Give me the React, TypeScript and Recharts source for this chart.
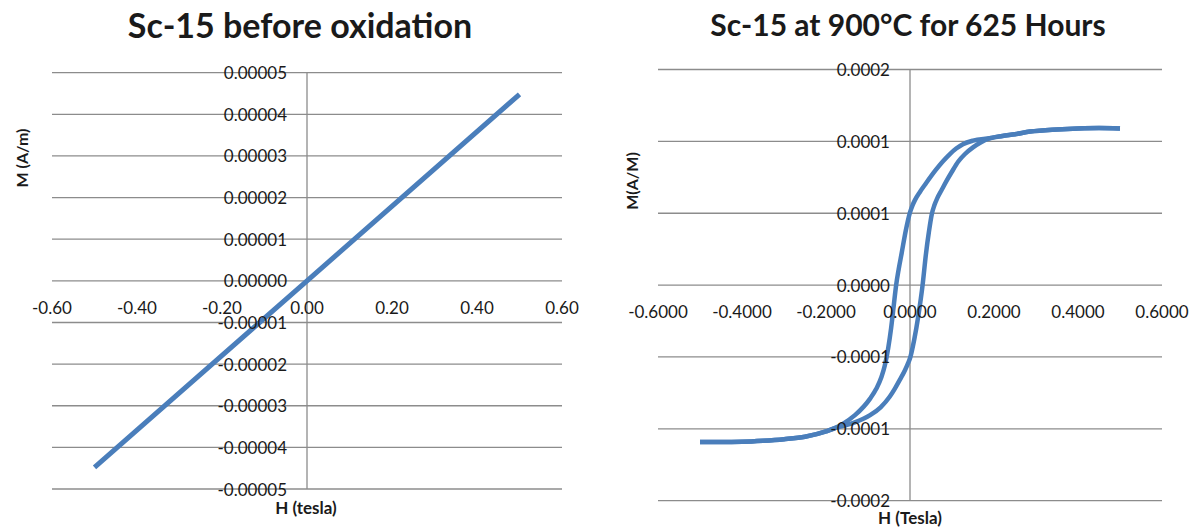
import { LineChart, Line, XAxis, YAxis, CartesianGrid, ReferenceLine } from 'recharts';

// Sc-15 before oxidation: straight M(H) line
const LEFT_H = [-0.5, 0, 0.5];
const LEFT_M = [-0.0000448, 0, 0.0000448];

const LEFT_X_TICKS = [-0.6, -0.4, -0.2, 0, 0.2, 0.4, 0.6];
const LEFT_X_LABELS = ['-0.60', '-0.40', '-0.20', '0.00', '0.20', '0.40', '0.60'];
const LEFT_Y_TICKS = [0.00005, 0.00004, 0.00003, 0.00002, 0.00001, 0, -0.00001, -0.00002, -0.00003, -0.00004, -0.00005];
const LEFT_Y_LABELS = ['0.00005', '0.00004', '0.00003', '0.00002', '0.00001', '0.00000', '-0.00001', '-0.00002', '-0.00003', '-0.00004', '-0.00005'];

// Sc-15 at 900°C for 625 h: hysteresis loop, descending and ascending branches
const DOWN_H = [-0.5, -0.45, -0.4, -0.35, -0.3, -0.25, -0.2, -0.18, -0.16, -0.131, -0.095, -0.08, -0.068, -0.06, -0.052, -0.045, -0.039, -0.033, -0.027, -0.02, -0.01, 0, 0.006, 0.012, 0.024, 0.036, 0.06, 0.078, 0.095, 0.11, 0.126, 0.15, 0.19, 0.22, 0.25, 0.286, 0.35, 0.4, 0.45, 0.5];
const DOWN_M = [-0.0001092, -0.0001092, -0.000109, -0.0001083, -0.0001072, -0.0001055, -0.0001018, -0.0000996, -0.0000965, -0.0000905, -0.000079, -0.000072, -0.000064, -0.000056, -0.000044, -0.00003, -0.000015, 0, 0.000011, 0.000022, 0.000038, 0.0000506, 0.0000555, 0.0000593, 0.000065, 0.00007, 0.0000796, 0.000086, 0.0000912, 0.000095, 0.000098, 0.0001005, 0.0001022, 0.0001038, 0.000105, 0.0001068, 0.0001083, 0.000109, 0.0001093, 0.000109];

const UP_H = [-0.5, -0.45, -0.4, -0.35, -0.3, -0.25, -0.2, -0.18, -0.16, -0.13, -0.095, -0.07, -0.048, -0.036, -0.024, -0.012, -0.006, 0, 0.01, 0.02, 0.03, 0.038, 0.045, 0.052, 0.058, 0.065, 0.075, 0.087, 0.099, 0.115, 0.131, 0.15, 0.167, 0.19, 0.22, 0.25, 0.286, 0.35, 0.4, 0.45, 0.5];
const UP_M = [-0.0001092, -0.0001092, -0.000109, -0.0001083, -0.0001072, -0.0001055, -0.0001018, -0.0000996, -0.000098, -0.0000953, -0.0000905, -0.000085, -0.0000775, -0.000072, -0.0000658, -0.0000592, -0.0000553, -0.0000509, -0.000038, -0.000021, 0, 0.0000217, 0.000037, 0.0000495, 0.0000555, 0.0000605, 0.000066, 0.0000725, 0.0000785, 0.000086, 0.0000912, 0.0000958, 0.000099, 0.0001022, 0.0001038, 0.000105, 0.0001068, 0.0001083, 0.000109, 0.0001093, 0.000109];

const RIGHT_X_TICKS = [-0.6, -0.4, -0.2, 0, 0.2, 0.4, 0.6];
const RIGHT_X_LABELS = ['-0.6000', '-0.4000', '-0.2000', '0.0000', '0.2000', '0.4000', '0.6000'];
const RIGHT_Y_TICKS = [0.00015, 0.0001, 0.00005, 0, -0.00005, -0.0001, -0.00015];
const RIGHT_Y_LABELS = ['0.0002', '0.0001', '0.0001', '0.0000', '-0.0001', '-0.0001', '-0.0002'];

const BLUE = '#4a7ebb';
const GRID = '#8c8c8c';
const FONT = 'Lato, "Open Sans", sans-serif';
const TEXT = '#1a1a1a';

const leftData = LEFT_H.map((h, i) => ({ h, m: LEFT_M[i] }));
const downData = DOWN_H.map((h, i) => ({ h, m: DOWN_M[i] }));
const upData = UP_H.map((h, i) => ({ h, m: UP_M[i] }));

const HEIGHT = 529;
const AXIS_W = 20; // room reserved for the axis strips (labels are drawn at the zero lines)

interface PanelProps {
  left: number;
  width: number;
  plot: { top: number; right: number; bottom: number; left: number }; // plot area edges, in panel px
  xTicks: number[];
  xLabels: string[];
  yTicks: number[];
  yLabels: string[];
  labelGap: number; // x labels sit this far below the zero line
  children: React.ReactNode;
}

function Panel({ left, width, plot, xTicks, xLabels, yTicks, yLabels, labelGap, children }: PanelProps) {
  const zeroY = (plot.top + plot.bottom) / 2;
  const zeroX = (plot.left + plot.right) / 2;
  const yMax = yTicks[0];
  const margin = {
    top: plot.top,
    right: width - plot.right,
    bottom: HEIGHT - plot.bottom - AXIS_W,
    left: plot.left - AXIS_W,
  };

  return (
    <div style={{ position: 'absolute', left, top: 0 }}>
      <LineChart width={width} height={HEIGHT} margin={margin}>
        <CartesianGrid horizontal vertical={false} stroke={GRID} strokeWidth={1.3} />
        <XAxis
          type="number"
          dataKey="h"
          domain={[xTicks[0], xTicks[xTicks.length - 1]]}
          ticks={xTicks}
          height={AXIS_W}
          axisLine={false}
          tickLine={false}
          interval={0}
          tick={(p: any) => (
            <text
              x={p.x}
              y={zeroY + labelGap}
              textAnchor="middle"
              dominantBaseline="central"
              fontSize={17}
              fontFamily={FONT}
              fill={TEXT}
            >
              {xLabels[xTicks.indexOf(p.payload.value)]}
            </text>
          )}
        />
        <YAxis
          type="number"
          dataKey="m"
          domain={[-yMax, yMax]}
          ticks={yTicks}
          width={AXIS_W}
          axisLine={false}
          tickLine={false}
          interval={0}
          tick={(p: any) => (
            <text
              x={zeroX - 20}
              y={p.y}
              textAnchor="end"
              dominantBaseline="central"
              fontSize={17}
              fontFamily={FONT}
              fill={TEXT}
            >
              {yLabels[yTicks.indexOf(p.payload.value)]}
            </text>
          )}
        />
        <ReferenceLine x={0} stroke={GRID} strokeWidth={1.3} />
        {children}
      </LineChart>
    </div>
  );
}

function Label({ x, y, size, text, rotate }: { x: number; y: number; size: number; text: string; rotate?: boolean }) {
  return (
    <div
      style={{
        position: 'absolute',
        left: x,
        top: y,
        transform: `translate(-50%, -50%)${rotate ? ' rotate(-90deg)' : ''}`,
        fontFamily: FONT,
        fontWeight: 700,
        fontSize: size,
        lineHeight: 1,
        whiteSpace: 'nowrap',
        color: TEXT,
      }}
    >
      {text}
    </div>
  );
}

export default function App() {
  return (
    <div
      style={{
        position: 'absolute',
        left: 0,
        top: 0,
        width: 1197,
        height: HEIGHT,
        background: '#fff',
        overflow: 'hidden',
      }}
    >
      <Panel
        left={0}
        width={600}
        plot={{ top: 72.7, bottom: 489, left: 52, right: 562 }}
        xTicks={LEFT_X_TICKS}
        xLabels={LEFT_X_LABELS}
        yTicks={LEFT_Y_TICKS}
        yLabels={LEFT_Y_LABELS}
        labelGap={27}
      >
        <Line
          data={leftData}
          dataKey="m"
          type="linear"
          stroke={BLUE}
          strokeWidth={5}
          dot={false}
          isAnimationActive={false}
        />
      </Panel>

      <Panel
        left={600}
        width={597}
        plot={{ top: 69.5, bottom: 500.7, left: 58, right: 562 }}
        xTicks={RIGHT_X_TICKS}
        xLabels={RIGHT_X_LABELS}
        yTicks={RIGHT_Y_TICKS}
        yLabels={RIGHT_Y_LABELS}
        labelGap={26.5}
      >
        <Line
          data={downData}
          dataKey="m"
          type="monotone"
          stroke={BLUE}
          strokeWidth={4.5}
          dot={false}
          isAnimationActive={false}
        />
        <Line
          data={upData}
          dataKey="m"
          type="monotone"
          stroke={BLUE}
          strokeWidth={4.5}
          dot={false}
          isAnimationActive={false}
        />
      </Panel>

      <Label x={300} y={25} size={34} text="Sc-15 before oxidation" />
      <Label x={908} y={24} size={30} text="Sc-15 at 900°C for 625 Hours" />
      <Label x={306} y={507} size={17} text="H (tesla)" />
      <Label x={910} y={517} size={17} text="H (Tesla)" />
      <Label x={22} y={158} size={16} text="M (A/m)" rotate />
      <Label x={632} y={181} size={16} text="M(A/M)" rotate />
    </div>
  );
}
